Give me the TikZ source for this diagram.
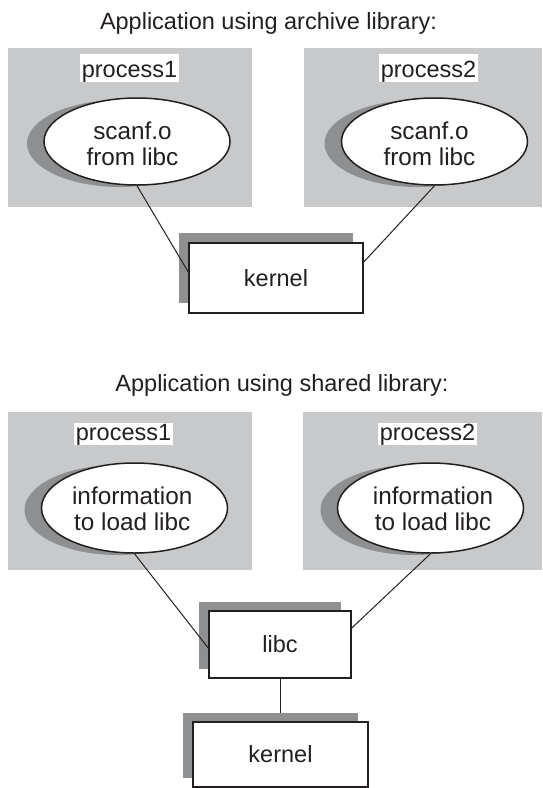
\documentclass[tikz,border=0pt]{standalone}
\usepackage{fontspec}
\setmainfont{Liberation Sans}
\usetikzlibrary{shapes.geometric,calc}
\definecolor{panelgray}{HTML}{C8C9CB}
\definecolor{shadegray}{HTML}{8E8F91}
\definecolor{ink}{HTML}{231F20}
\begin{document}
\begin{tikzpicture}[x=1pt,y=-1pt,
  heading/.style={font=\fontsize{23.5}{28}\selectfont, text=ink, anchor=base, inner sep=0},
  panel/.style={fill=panelgray, draw=none, inner sep=0},
  tag/.style={fill=white, inner xsep=1.5pt, inner ysep=0, anchor=base,
    font=\fontsize{23.5}{28}\selectfont, text=ink, text depth=4.3pt},
  bubbleshade/.style={ellipse, fill=shadegray, draw=none, inner sep=0, minimum width=186pt},
  bubble/.style={ellipse, fill=white, draw=ink, line width=1.5pt, inner sep=0, minimum width=186pt},
  bubbletext/.style={align=center, font=\fontsize{24.3}{26.7}\selectfont, text=ink, inner sep=0},
  modshade/.style={fill=shadegray, draw=none, inner sep=0},
  modbox/.style={fill=white, draw=ink, line width=1.5pt, inner sep=0,
    font=\fontsize{23.5}{28}\selectfont, text=ink},
  link/.style={draw=ink, line width=1pt}]
\useasboundingbox (0,0) rectangle (542,788);

% ---------- archive library ----------
\node[heading] (title1) at (268.5,29) {Application using archive library:};

\node[panel, minimum width=244pt, minimum height=159pt] (pa1) at (130,127.5) {};
\node[panel, minimum width=238pt, minimum height=159pt] (pa2) at (423,127.5) {};
\node[tag, text height=23.7pt] (taga1) at (129.5,77.7) {process1};
\node[tag, text height=23.7pt] (taga2) at (428.5,77.7) {process2};

\node[bubbleshade, minimum height=87pt] (ea1s) at (120,143.5) {};
\node[bubble, minimum height=87pt] (ea1) at (137,141.5) {};
\node[bubbletext] (ta1) at (132.5,143.9) {scanf.o\\from libc};
\node[bubbleshade, minimum height=87pt] (ea2s) at (417.5,143.5) {};
\node[bubble, minimum height=87pt] (ea2) at (434.5,141.5) {};
\node[bubbletext] (ta2) at (429.5,143.9) {scanf.o\\from libc};

\node[modshade, minimum width=174pt, minimum height=70pt] (ka1s) at (266,268) {};
\node[modbox, minimum width=174pt, minimum height=70pt] (ka1) at (276,278) {kernel};

\draw[link] (ea1.south) -- ([yshift=6pt]ka1.west);
\draw[link] (ea2.south) -- ([yshift=16pt]ka1.east);

% ---------- shared library ----------
\node[heading] (title2) at (282,391) {Application using shared library:};

\node[panel, minimum width=244pt, minimum height=158pt] (pb1) at (130,491) {};
\node[panel, minimum width=239pt, minimum height=158pt] (pb2) at (422.5,491) {};
\node[tag, text height=17.4pt] (tagb1) at (123.5,440.7) {process1};
\node[tag, text height=17.4pt] (tagb2) at (427.5,440.7) {process2};

\node[bubbleshade, minimum height=90pt] (eb1s) at (117.5,510) {};
\node[bubble, minimum height=90pt] (eb1) at (134.5,508) {};
\node[bubbletext] (tb1) at (132.2,508.9) {information\\to load libc};
\node[bubbleshade, minimum height=90pt] (eb2s) at (413.5,510) {};
\node[bubble, minimum height=90pt] (eb2) at (430.5,508) {};
\node[bubbletext] (tb2) at (433,508.9) {information\\to load libc};

\node[modshade, minimum width=142pt, minimum height=67pt] (libcs) at (270,635.5) {};
\node[modbox, minimum width=142pt, minimum height=67pt] (libc) at (280,644.5) {libc};

\node[modshade, minimum width=175pt, minimum height=65pt] (kb1s) at (270.5,745.5) {};
\node[modbox, minimum width=175pt, minimum height=65pt] (kb1) at (280.5,754.5) {kernel};

\draw[link] (eb1.south) -- ([yshift=-3.5pt]libc.west);
\draw[link] (eb2.south) -- ([yshift=16.5pt]libc.east);
\draw[link] (libc.south) -- (libc.south |- kb1s.north);
\end{tikzpicture}
\end{document}
